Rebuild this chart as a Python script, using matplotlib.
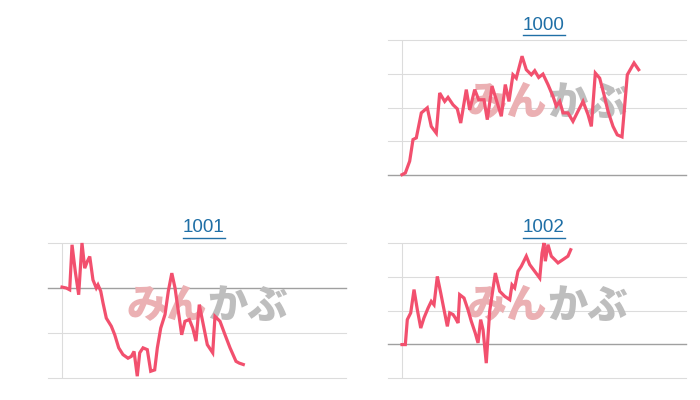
import matplotlib.pyplot as plt
from matplotlib.lines import Line2D

plt.rcParams['font.family'] = ['Liberation Sans', 'DejaVu Sans']

# minutes since the open (the axis covers 0-300) and price in gridline steps
CODES = ['1000', '1001', '1002']

t_1000 = [0, 3.5, 8.1, 11.6, 15.1, 20.4, 26.7, 30.9, 36.2, 39.8, 45.1, 48.6, 53.9,
          58.4, 62.0, 67.9, 71.5, 76.8, 81.0, 86.6, 90.1, 95.1, 99.6, 104.9, 109.1,
          113.0, 117.2, 120.7, 126.8, 131.3, 136.6, 140.2, 144.4, 148.9, 154.2,
          159.5, 163.0, 166.6, 170.1, 175.3, 180.6, 185.9, 191.2, 196.5, 200.0,
          204.2, 208.8, 213.4, 217.6, 222.9, 227.4, 232.4, 238.0, 245.1, 250.0]
p_1000 = [0.01, 0.06, 0.41, 1.05, 1.10, 1.84, 1.99, 1.44, 1.24, 2.43, 2.18, 2.30, 2.08,
          1.96, 1.54, 2.53, 1.93, 2.53, 2.23, 2.23, 1.64, 2.63, 2.23, 1.74, 2.68,
          2.18, 2.97, 2.87, 3.52, 3.12, 2.97, 3.09, 2.89, 2.99, 2.68,
          2.33, 2.04, 2.18, 1.84, 1.84, 1.59, 1.89, 2.18, 1.79, 1.44,
          3.02, 2.87, 2.38, 1.89, 1.44, 1.19, 1.13, 2.97, 3.32, 3.12]

t_1001 = [0, 4.5, 8.1, 10.6, 14.0, 17.6, 21.1, 24.0, 26.7, 29.3, 32.7, 36.2, 38.0,
          40.9, 43.3, 46.8, 52.1, 55.7, 59.9, 64.4, 69.7, 73.2, 76.1, 79.5, 82.1,
          85.6, 90.1, 93.7, 97.9, 100.7, 104.3, 108.8, 112.3, 116.0, 119.4, 122.9,
          126.4, 129.9, 134.5, 138.1, 141.5, 145.0, 149.3, 153.5, 159.2, 161.6,
          166.9, 172.2, 177.5, 183.8, 187.3, 191.5]
p_1001 = [2.02, 2.00, 1.96, 2.96, 2.37, 1.85, 3.00, 2.44, 2.59, 2.70, 2.18, 2.00, 2.07,
          1.93, 1.67, 1.33, 1.15, 0.96, 0.67, 0.52, 0.44, 0.48, 0.59, 0.04, 0.56,
          0.67, 0.63, 0.15, 0.18, 0.67, 1.11, 1.41, 1.93, 2.33, 2.00, 1.48,
          0.96, 1.26, 1.30, 1.11, 0.82, 1.63, 1.18, 0.74, 0.56, 1.37,
          1.26, 0.96, 0.67, 0.37, 0.33, 0.30]

t_1002 = [0, 3.5, 5.6, 9.2, 12.7, 16.2, 19.8, 23.2, 27.5, 30.9, 33.8, 37.3, 40.9,
          44.4, 47.9, 50.4, 53.9, 56.3, 59.2, 60.9, 65.5, 69.7, 73.2, 77.4, 80.3,
          83.1, 85.6, 89.0, 92.6, 98.6, 103.2, 108.5, 113.8, 116.2, 119.0, 122.5,
          126.0, 131.3, 134.9, 140.2, 145.5, 147.9, 150.0, 151.4, 154.2, 157.7,
          161.3, 164.8, 170.1, 175.3, 178.2]
p_1002 = [0.99, 0.99, 1.73, 1.93, 2.62, 2.02, 1.48, 1.78, 2.07, 2.27, 2.17, 3.01, 2.52,
          2.02, 1.53, 1.93, 1.88, 1.78, 1.63, 2.47, 2.37, 2.02, 1.68, 1.33, 1.04,
          1.73, 1.43, 0.44, 1.98, 3.11, 2.57, 2.42, 2.32, 2.76, 2.67, 3.16,
          3.31, 3.61, 3.36, 3.16, 2.96, 3.70, 4.00, 3.46, 3.95, 3.61,
          3.51, 3.41, 3.51, 3.61, 3.80]

# y top gridline count and the previous-close level of each panel
Y_MAX = [4, 3, 4]
BASE = [0, 2, 1]

LINE_COLOR = '#f2506e'
TITLE_COLOR = '#1f6fa6'

W, H = 700, 400
fig = plt.figure(figsize=(7, 4), dpi=100)

# panel boxes in pixels: left, top, right, bottom
boxes = [(388, 40, 686, 175), (48, 243, 346, 378), (388, 243, 686, 378)]
series = [(t_1000, p_1000), (t_1001, p_1001), (t_1002, p_1002)]

for code, box, (t, p), ymax, base in zip(CODES, boxes, series, Y_MAX, BASE):
    l, top, r, b = box
    ax = fig.add_axes([l / W, 1 - b / H, (r - l) / W, (b - top) / H])
    ax.set_xlim(-14.8, 300)
    ax.set_ylim(0, ymax)
    for s in ax.spines.values():
        s.set_visible(False)
    ax.set_xticks([])
    ax.set_yticks([])
    for lvl in range(ymax + 1):
        if lvl == base:
            ax.axhline(lvl, color='#a0a0a0', lw=1.0, zorder=1, clip_on=False)
        else:
            ax.axhline(lvl, color='#dcdcdc', lw=0.8, zorder=1, clip_on=False)
    ax.axvline(0, color='#dcdcdc', lw=0.8, zorder=1)

    # watermark logo
    ax.text(0.535, 0.53, 'みん', transform=ax.transAxes, ha='right', va='center',
            fontsize=29, fontweight='heavy', color='#ebb0b3',
            family=['Noto Sans CJK JP'], zorder=2)
    ax.text(0.535, 0.53, 'かぶ', transform=ax.transAxes, ha='left', va='center',
            fontsize=29, fontweight='heavy', color='#bebebe',
            family=['Noto Sans CJK JP'], zorder=2)

    ax.plot(t, p, color=LINE_COLOR, lw=2.3, solid_joinstyle='miter',
            clip_on=False, zorder=3)

    cx = ((l + 14 + r) / 2) / W
    fig.text(cx, 1 - (top - 15) / H, code, ha='center', va='center',
             fontsize=13.5, color=TITLE_COLOR)

# underline the titles like links
fig.canvas.draw()
renderer = fig.canvas.get_renderer()
for txt in list(fig.texts):
    bb = txt.get_window_extent(renderer).transformed(fig.transFigure.inverted())
    y = bb.y0 - 1.5 / H
    fig.add_artist(Line2D([bb.x0, bb.x1], [y, y], color=TITLE_COLOR, lw=1.0,
                          transform=fig.transFigure))

fig.savefig('out.png', dpi=100, facecolor='white')
